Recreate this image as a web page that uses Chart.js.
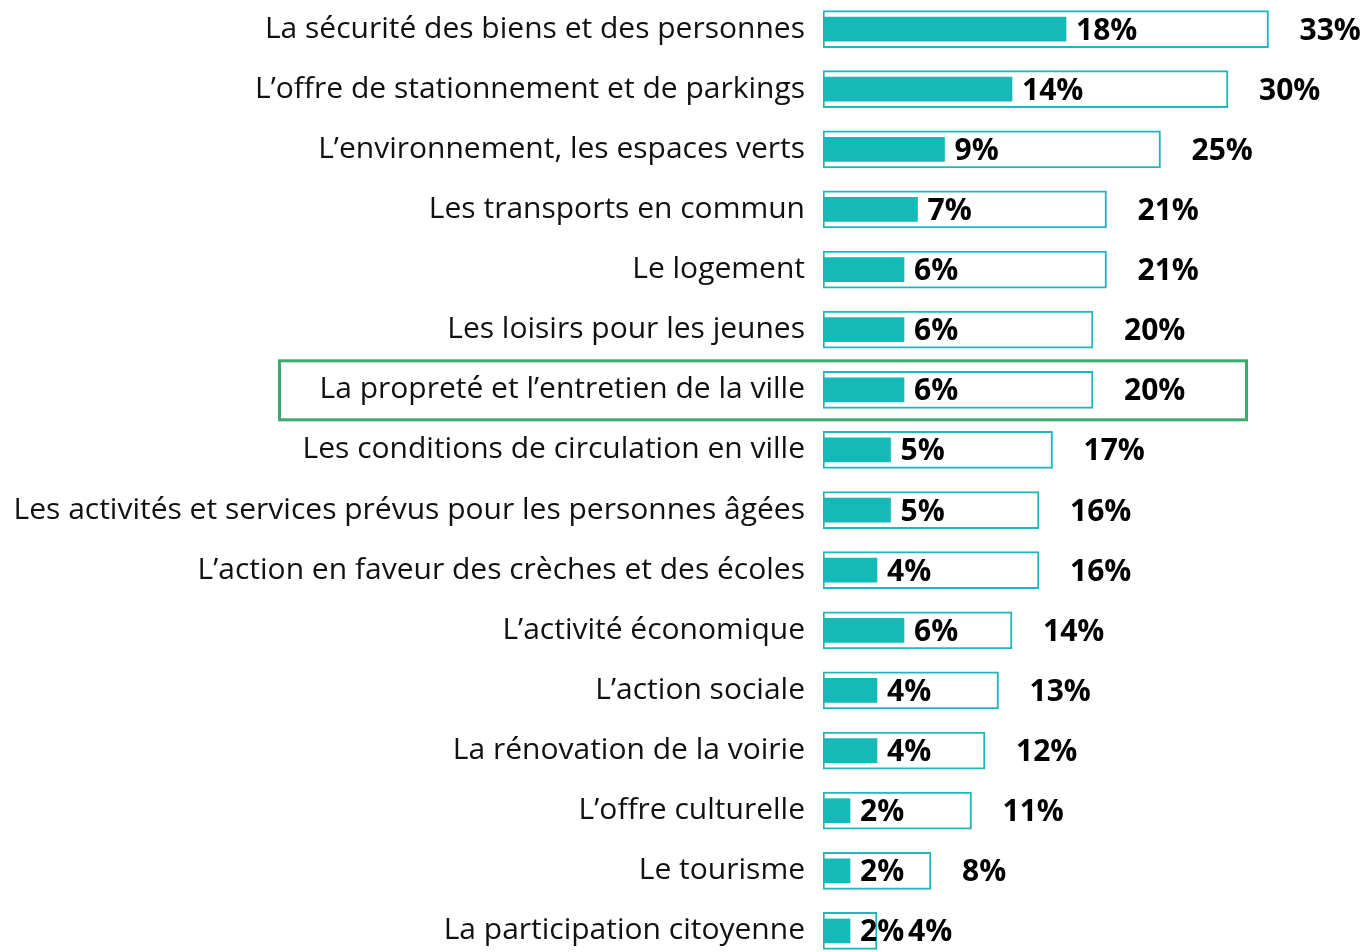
<!DOCTYPE html>
<html>
<head>
<meta charset="utf-8">
<script src="https://cdn.jsdelivr.net/npm/chart.js@4.4.0/dist/chart.umd.min.js"></script>
<style>
  html, body { margin: 0; padding: 0; background: #fff; overflow: hidden; }
  #chart { position: absolute; left: 0; top: -1px; }
</style>
</head>
<body>
<canvas id="chart" width="1370" height="962"></canvas>
<script>
var categories = [
    'La sécurité des biens et des personnes',
    'L\u2019offre de stationnement et de parkings',
    'L\u2019environnement, les espaces verts',
    'Les transports en commun',
    'Le logement',
    'Les loisirs pour les jeunes',
    'La propreté et l\u2019entretien de la ville',
    'Les conditions de circulation en ville',
    'Les activités et services prévus pour les personnes âgées',
    'L\u2019action en faveur des crèches et des écoles',
    'L\u2019activité économique',
    'L\u2019action sociale',
    'La rénovation de la voirie',
    'L\u2019offre culturelle',
    'Le tourisme',
    'La participation citoyenne'
];
var premierChoix = [18, 14, 9, 7, 6, 6, 6, 5, 5, 4, 6, 4, 4, 2, 2, 2];
var totalCitations = [33, 30, 25, 21, 21, 20, 20, 17, 16, 16, 14, 13, 12, 11, 8, 4];
var highlightIndex = 6;

var teal = '#15b9b7';
var fontFamily = '"Open Sans", "Noto Sans", sans-serif';

// draws the % labels next to each bar and the green frame
var labelsPlugin = {
    id: 'valueLabels',
    afterDatasetsDraw: function (chart) {
        var ctx = chart.ctx;
        var inner = chart.getDatasetMeta(0);
        var outer = chart.getDatasetMeta(1);
        ctx.save();
        ctx.fillStyle = '#000';
        ctx.font = 'bold 30px ' + fontFamily;
        ctx.textAlign = 'left';
        ctx.textBaseline = 'middle';
        for (var i = 0; i < categories.length; i++) {
            var a = inner.data[i];
            var b = outer.data[i];
            ctx.fillText(premierChoix[i] + '%', a.x + 10, a.y + 2);
            ctx.fillText(totalCitations[i] + '%', b.x + 31, b.y + 2);
        }

        // highlight frame
        var yScale = chart.scales.y;
        var yc = yScale.getPixelForValue(highlightIndex);
        ctx.strokeStyle = '#3aaa6f';
        ctx.lineWidth = 3;
        ctx.strokeRect(279.5, yc - 29, 967, 59);
        ctx.restore();
    }
};

var ctx = document.getElementById('chart').getContext('2d');
var chart = new Chart(ctx, {
    type: 'bar',
    data: {
        labels: categories,
        datasets: [{
            label: 'Premier choix',
            data: premierChoix,
            backgroundColor: teal,
            borderWidth: 0,
            barThickness: 24,
            grouped: false
        }, {
            label: 'Total',
            data: totalCitations,
            backgroundColor: '#ffffff',
            borderColor: '#1fb6bd',
            borderWidth: 2,
            borderSkipped: false,
            barThickness: 37,
            grouped: false
        }]
    },
    options: {
        indexAxis: 'y',
        responsive: false,
        animation: false,
        devicePixelRatio: 1,
        layout: { padding: { top: 0, right: 7, bottom: 0, left: 0 } },
        plugins: {
            legend: { display: false },
            tooltip: { enabled: false }
        },
        scales: {
            x: {
                display: false,
                min: 0,
                max: 40
            },
            y: {
                grid: { display: false, drawTicks: false },
                border: { display: false },
                ticks: {
                    color: '#111',
                    padding: 18,
                    font: { family: fontFamily, size: 30 }
                },
                afterFit: function (scale) {
                    scale.width = 823;
                    scale.paddingTop = 0;
                    scale.paddingBottom = 0;
                }
            }
        }
    },
    plugins: [labelsPlugin]
});
</script>
</body>
</html>
